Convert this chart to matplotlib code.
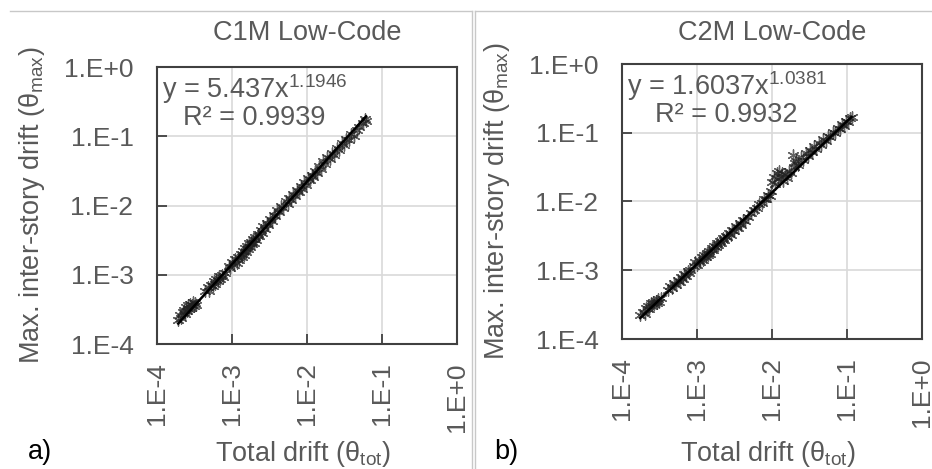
import numpy as np
import matplotlib
matplotlib.use("Agg")
import matplotlib.pyplot as plt
from matplotlib.ticker import FixedLocator, FuncFormatter, NullLocator
from matplotlib.lines import Line2D

plt.rcParams['font.family'] = ['Liberation Sans', 'DejaVu Sans']
plt.rcParams['mathtext.fontset'] = 'custom'
plt.rcParams['mathtext.rm'] = 'Liberation Sans'
plt.rcParams['mathtext.it'] = 'Liberation Sans'

# ---------------- data ----------------
titles = ["C1M Low-Code", "C2M Low-Code"]
panel_tags = ["a)", "b)"]
fit_coef = [5.437, 1.6037]
fit_exp = [1.1946, 1.0381]
fit_exp_txt = ["1.1946", "1.0381"]
r2_txt = ["0.9939", "0.9932"]
fit_xrange = [(1.92e-4, 6.12e-2), (1.75e-4, 1.15e-1)]
tick_exps = [-4, -3, -2, -1, 0]

c1m_total = [1.9e-4, 2.0e-4, 2.1e-4, 2.2e-4, 2.3e-4, 2.35e-4, 2.45e-4, 2.5e-4, 2.6e-4, 2.65e-4,
             2.75e-4, 2.8e-4, 2.9e-4, 3.0e-4, 3.1e-4, 3.2e-4, 3.35e-4,
             4.4e-4, 4.8e-4, 5.0e-4, 5.3e-4, 5.5e-4, 5.7e-4, 6.0e-4, 6.2e-4, 6.5e-4, 6.8e-4,
             7.0e-4, 7.3e-4, 7.6e-4, 8.0e-4,
             9.0e-4, 9.5e-4, 1.0e-3, 1.05e-3, 1.1e-3, 1.15e-3, 1.2e-3, 1.25e-3, 1.3e-3, 1.35e-3,
             1.4e-3, 1.45e-3, 1.5e-3, 1.55e-3, 1.6e-3, 1.65e-3, 1.7e-3, 1.75e-3, 1.8e-3, 1.85e-3,
             1.9e-3, 1.95e-3, 2.0e-3, 2.1e-3, 2.2e-3, 2.3e-3, 2.4e-3, 2.5e-3, 2.6e-3, 2.75e-3,
             2.9e-3, 3.0e-3, 3.2e-3, 3.4e-3, 3.6e-3, 3.8e-3, 4.0e-3, 4.2e-3, 4.5e-3, 4.8e-3,
             5.2e-3, 5.5e-3, 5.8e-3, 6.2e-3, 6.5e-3, 7.0e-3, 7.4e-3, 7.8e-3, 8.2e-3, 8.7e-3,
             9.2e-3, 9.8e-3, 1.03e-2, 1.08e-2, 1.15e-2, 1.2e-2, 1.28e-2, 1.35e-2, 1.45e-2, 1.55e-2,
             1.65e-2, 1.75e-2, 1.85e-2, 2.0e-2, 2.15e-2, 2.3e-2, 2.5e-2, 2.7e-2, 2.9e-2, 3.1e-2,
             3.3e-2, 3.6e-2, 3.9e-2, 4.2e-2, 4.6e-2, 5.0e-2, 5.5e-2, 5.9e-2, 6.1e-2]
c1m_max = [2.2e-4, 2.6e-4, 2.4e-4, 2.9e-4, 3.1e-4, 2.7e-4, 3.4e-4, 3.0e-4, 3.6e-4, 3.2e-4,
           3.8e-4, 3.3e-4, 3.6e-4, 4.1e-4, 3.5e-4, 3.9e-4, 3.7e-4,
           5.8e-4, 6.6e-4, 5.9e-4, 7.2e-4, 6.8e-4, 8.0e-4, 7.4e-4, 8.7e-4, 8.1e-4, 9.5e-4,
           8.6e-4, 1.0e-3, 9.3e-4, 1.05e-3,
           1.35e-3, 1.25e-3, 1.55e-3, 1.40e-3, 1.70e-3, 1.50e-3, 1.80e-3, 1.65e-3, 2.00e-3, 1.80e-3,
           2.20e-3, 1.95e-3, 2.40e-3, 2.15e-3, 2.60e-3, 2.35e-3, 2.85e-3, 2.50e-3, 3.00e-3, 2.75e-3,
           3.30e-3, 2.90e-3, 3.50e-3, 3.20e-3, 3.90e-3, 3.60e-3, 4.40e-3, 4.00e-3, 5.00e-3, 4.60e-3,
           5.60e-3, 5.20e-3, 6.40e-3, 6.00e-3, 7.40e-3, 7.00e-3, 8.60e-3, 8.00e-3, 9.80e-3, 9.20e-3,
           1.15e-2, 1.05e-2, 1.30e-2, 1.20e-2, 1.45e-2, 1.35e-2, 1.65e-2, 1.55e-2, 1.90e-2, 1.75e-2,
           2.15e-2, 2.00e-2, 2.50e-2, 2.30e-2, 2.80e-2, 2.60e-2, 3.20e-2, 2.95e-2, 3.70e-2, 3.40e-2,
           4.40e-2, 4.00e-2, 5.00e-2, 4.70e-2, 5.80e-2, 5.40e-2, 6.80e-2, 6.40e-2, 8.00e-2, 7.50e-2,
           9.20e-2, 8.80e-2, 0.107, 0.102, 0.125, 0.135, 0.155, 0.175, 0.165]

c2m_total = [1.75e-4, 1.9e-4, 2.0e-4, 2.1e-4, 2.2e-4, 2.3e-4, 2.4e-4, 2.5e-4, 2.6e-4, 2.7e-4,
             2.8e-4, 2.9e-4, 3.0e-4, 3.15e-4, 3.3e-4,
             4.1e-4, 4.4e-4, 4.7e-4, 5.0e-4, 5.3e-4, 5.6e-4, 5.9e-4, 6.2e-4, 6.5e-4, 6.8e-4,
             7.1e-4, 7.5e-4, 7.9e-4, 8.1e-4,
             9.0e-4, 9.5e-4, 1.0e-3, 1.05e-3, 1.1e-3, 1.15e-3, 1.2e-3, 1.25e-3, 1.3e-3, 1.35e-3,
             1.4e-3, 1.45e-3, 1.5e-3, 1.6e-3, 1.65e-3, 1.7e-3, 1.8e-3, 1.85e-3, 1.9e-3, 2.0e-3,
             2.1e-3, 2.2e-3, 2.3e-3, 2.4e-3, 2.5e-3, 2.65e-3, 2.8e-3, 2.95e-3, 3.1e-3, 3.3e-3,
             3.5e-3, 3.7e-3, 3.9e-3, 4.1e-3, 4.4e-3,
             4.8e-3, 5.3e-3, 5.8e-3, 6.3e-3, 6.8e-3, 7.3e-3, 7.8e-3, 8.3e-3, 8.8e-3, 9.3e-3, 9.8e-3,
             1.0e-2, 1.05e-2, 1.1e-2, 1.15e-2, 1.2e-2, 1.25e-2, 1.3e-2, 1.35e-2, 1.4e-2, 1.5e-2,
             1.6e-2, 1.7e-2, 1.8e-2,
             1.9e-2, 1.95e-2, 2.0e-2, 2.1e-2, 2.2e-2, 2.4e-2, 2.6e-2, 2.8e-2, 3.0e-2, 3.2e-2, 3.4e-2,
             3.6e-2, 3.9e-2, 4.2e-2, 4.5e-2, 4.8e-2, 5.2e-2, 5.6e-2, 6.0e-2, 6.5e-2, 7.0e-2,
             7.5e-2, 8.0e-2, 8.6e-2, 9.2e-2, 9.8e-2, 0.104, 0.110, 0.115]
c2m_max = [2.2e-4, 2.5e-4, 2.3e-4, 2.8e-4, 3.0e-4, 2.7e-4, 3.3e-4, 3.0e-4, 3.5e-4, 3.2e-4,
           3.6e-4, 3.3e-4, 3.8e-4, 3.5e-4, 3.9e-4,
           5.2e-4, 5.9e-4, 5.5e-4, 6.6e-4, 6.2e-4, 7.2e-4, 6.8e-4, 8.0e-4, 7.5e-4, 8.8e-4,
           8.2e-4, 9.6e-4, 9.0e-4, 1.0e-3,
           1.15e-3, 1.30e-3, 1.20e-3, 1.40e-3, 1.30e-3, 1.55e-3, 1.42e-3, 1.65e-3, 1.55e-3, 1.80e-3,
           1.65e-3, 1.90e-3, 1.75e-3, 2.10e-3, 1.95e-3, 2.25e-3, 2.15e-3, 2.45e-3, 2.30e-3, 2.65e-3,
           2.50e-3, 2.90e-3, 2.75e-3, 3.20e-3, 3.00e-3, 3.50e-3, 3.30e-3, 3.90e-3, 3.70e-3, 4.40e-3,
           4.10e-3, 4.90e-3, 4.60e-3, 5.40e-3, 5.20e-3,
           6.0e-3, 6.8e-3, 7.6e-3, 8.0e-3, 9.2e-3, 9.6e-3, 1.10e-2, 1.08e-2, 1.25e-2, 1.20e-2, 1.40e-2,
           1.9e-2, 2.3e-2, 1.8e-2, 2.6e-2, 2.1e-2, 2.8e-2, 2.3e-2, 2.6e-2, 2.0e-2, 2.5e-2,
           2.2e-2, 2.8e-2, 2.6e-2,
           4.7e-2, 3.2e-2, 3.6e-2, 3.9e-2, 3.4e-2, 4.4e-2, 4.0e-2, 5.0e-2, 4.6e-2, 5.7e-2, 5.2e-2,
           6.4e-2, 5.8e-2, 7.2e-2, 6.6e-2, 8.0e-2, 7.5e-2, 9.0e-2, 8.6e-2, 0.104, 0.098,
           0.118, 0.112, 0.132, 0.125, 0.150, 0.142, 0.165, 0.170]

series_total = [c1m_total, c2m_total]
series_max = [c1m_max, c2m_max]

# ---------------- layout ----------------
W, H = 932, 469
fig = plt.figure(figsize=(W / 100, H / 100), dpi=100)
fig.patch.set_facecolor('white')

TXT = '#595959'
FS = 19.5
axes_px = [(157, 67, 300, 277), (622, 64, 300, 275)]  # left, top, width, height in px

def px(x, y):
    return x / W, 1 - y / H

# panel frame lines
frame_col = '#c8c8c8'
fig.add_artist(Line2D([10 / W, 472 / W], [1 - 11 / H] * 2, color=frame_col, lw=1))
fig.add_artist(Line2D([475 / W, 1.0], [1 - 11 / H] * 2, color=frame_col, lw=1))
fig.add_artist(Line2D([472 / W] * 2, [0, 1 - 11 / H], color=frame_col, lw=1))
fig.add_artist(Line2D([475 / W] * 2, [0, 1 - 11 / H], color=frame_col, lw=1))

fmt = FuncFormatter(lambda v, p: "1.E{:+d}".format(int(round(np.log10(v)))))

for i in range(2):
    l, t, w, h = axes_px[i]
    ax = fig.add_axes([l / W, 1 - (t + h) / H, w / W, h / H])
    ax.set_xscale('log')
    ax.set_yscale('log')
    ax.set_xlim(1e-4, 1e0)
    ax.set_ylim(1e-4, 1e0)
    ticks = [10.0 ** e for e in tick_exps]
    ax.xaxis.set_major_locator(FixedLocator(ticks))
    ax.yaxis.set_major_locator(FixedLocator(ticks))
    ax.xaxis.set_minor_locator(NullLocator())
    ax.yaxis.set_minor_locator(NullLocator())
    ax.xaxis.set_major_formatter(fmt)
    ax.yaxis.set_major_formatter(fmt)
    ax.grid(True, color='#d9d9d9', lw=1.2, zorder=0)
    ax.set_axisbelow(True)
    for s in ax.spines.values():
        s.set_color('#404040')
        s.set_linewidth(1.5)
    ax.tick_params(axis='both', which='major', direction='in', length=7, width=1.3,
                   color='#404040', labelsize=19, labelcolor=TXT)
    ax.tick_params(axis='y', pad=17)
    ax.tick_params(axis='x', pad=13, labelrotation=90)
    for lab in ax.get_xticklabels():
        lab.set_verticalalignment('top')

    ax.scatter(series_total[i], series_max[i], marker=(6, 2, 0), s=65, linewidths=1.0,
               color='#222222', alpha=0.7, zorder=3)
    xf = np.geomspace(fit_xrange[i][0], fit_xrange[i][1], 100)
    ax.plot(xf, fit_coef[i] * xf ** fit_exp[i], color='black', lw=1.8, zorder=4)

    # equation text
    ax.text(5 / w, 1 - 22 / h, "y = {}x".format(fit_coef[i]) + r"$^{\mathregular{" + fit_exp_txt[i] + "}}$",
            transform=ax.transAxes, fontsize=FS, color=TXT, va='center', ha='left')
    ax.text((26 if i == 0 else 33) / w, 1 - 51 / h, "R\u00b2 = " + r2_txt[i],
            transform=ax.transAxes, fontsize=FS, color=TXT, va='center', ha='left')

    cx = l + w / 2
    fig.text(*px(cx, 33), titles[i], ha='center', va='center', fontsize=FS, color=TXT)
    fig.text(*px(l - 125, t + h / 2), r"Max. inter-story drift (θ$_{\mathregular{max}}$)",
             rotation=90, ha='center', va='center', fontsize=FS, color=TXT)
    fig.text(*px(cx - 4, 454), r"Total drift (θ$_{\mathregular{tot}}$)",
             ha='center', va='center', fontsize=FS, color=TXT)

fig.text(*px(40, 452), panel_tags[0], ha='center', va='center', fontsize=FS, color='black')
fig.text(*px(506, 452), panel_tags[1], ha='center', va='center', fontsize=FS, color='black')

fig.savefig('out.png', dpi=100, facecolor='white')
